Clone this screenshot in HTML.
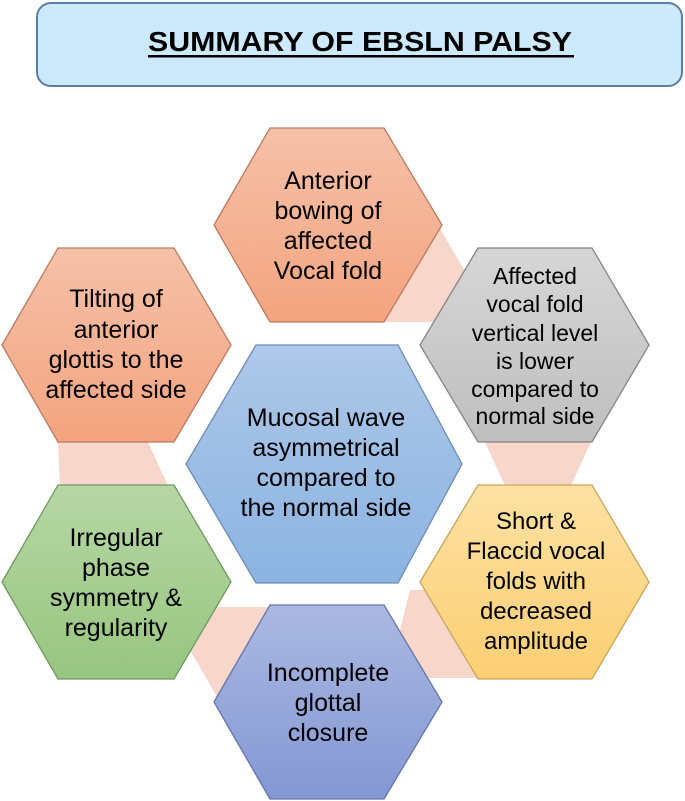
<!DOCTYPE html>
<html><head><meta charset="utf-8"><style>
html,body{margin:0;padding:0;background:#fff;}
svg{display:block;}
text{font-family:"Liberation Sans",sans-serif;fill:#000;}
</style></head><body>
<svg width="685" height="801" viewBox="0 0 685 801" xmlns="http://www.w3.org/2000/svg">
<defs>
<linearGradient id="go" x1="0" y1="0" x2="0" y2="1"><stop offset="0" stop-color="#f5c1a9"/><stop offset="1" stop-color="#f4a47f"/></linearGradient>
<linearGradient id="gg" x1="0" y1="0" x2="0" y2="1"><stop offset="0" stop-color="#d6d6d6"/><stop offset="1" stop-color="#bfbfbf"/></linearGradient>
<linearGradient id="gb" x1="0" y1="0" x2="0" y2="1"><stop offset="0" stop-color="#aec8e8"/><stop offset="1" stop-color="#8bb3e1"/></linearGradient>
<linearGradient id="ggr" x1="0" y1="0" x2="0" y2="1"><stop offset="0" stop-color="#b7d7a6"/><stop offset="1" stop-color="#97c57f"/></linearGradient>
<linearGradient id="gy" x1="0" y1="0" x2="0" y2="1"><stop offset="0" stop-color="#fde1a3"/><stop offset="1" stop-color="#fccf73"/></linearGradient>
<linearGradient id="gv" x1="0" y1="0" x2="0" y2="1"><stop offset="0" stop-color="#abb8e1"/><stop offset="1" stop-color="#8397d3"/></linearGradient>
</defs>
<rect x="37" y="3" width="645" height="83" rx="14" fill="#cceafc" stroke="#5a7ea6" stroke-width="2"/>
<text x="360" y="51" font-size="28" font-weight="bold" text-anchor="middle" textLength="424" lengthAdjust="spacingAndGlyphs">SUMMARY OF EBSLN PALSY</text>
<rect x="148" y="55" width="426" height="2.5" fill="#000"/>

<g fill="#f7d6cb">
<polygon points="432,215 482,300 452,322 385,322"/>
<polygon points="58,440 147,440 170,490 60,490"/>
<polygon points="484,440 592,440 569,490 507,490"/>
<polygon points="185,607 278,607 220,702 190,650"/>
<polygon points="410,590 458,590 482,678 425,678 400,630"/>
</g>

<g stroke-width="1.3">
<polygon points="270,128 384,128 442,225 384,322 270,322 214,225" fill="url(#go)" stroke="#b97a60"/>
<polygon points="58,248 174,248 231,345 174,442 58,442 2,345" fill="url(#go)" stroke="#b97a60"/>
<polygon points="478,248 592,248 649,345 592,442 478,442 420,345" fill="url(#gg)" stroke="#858585"/>
<polygon points="256,345 398,345 462,464 398,583 256,583 186,464" fill="url(#gb)" stroke="#6c8bb7"/>
<polygon points="58,485 174,485 231,582 174,679 58,679 2,582" fill="url(#ggr)" stroke="#6f9960"/>
<polygon points="478,485 592,485 649,582 592,679 478,679 420,582" fill="url(#gy)" stroke="#c8a55a"/>
<polygon points="270,605 384,605 442,702 384,799 270,799 214,702" fill="url(#gv)" stroke="#6475a8"/>
</g>

<g font-size="25" text-anchor="middle">
<text x="328" y="189">Anterior</text>
<text x="328" y="219">bowing of</text>
<text x="328" y="249">affected</text>
<text x="328" y="279">Vocal fold</text>

<text x="116" y="307">Tilting of</text>
<text x="116" y="338">anterior</text>
<text x="116" y="368">glottis to the</text>
<text x="116" y="398">affected side</text>

<g font-size="23">
<text x="535" y="284">Affected</text>
<text x="535" y="312">vocal fold</text>
<text x="535" y="341">vertical level</text>
<text x="535" y="369">is lower</text>
<text x="535" y="397">compared to</text>
<text x="535" y="424">normal side</text>
</g>

<text x="326" y="426">Mucosal wave</text>
<text x="326" y="456">asymmetrical</text>
<text x="326" y="486">compared to</text>
<text x="326" y="516">the normal side</text>

<text x="116" y="546">Irregular</text>
<text x="116" y="576">phase</text>
<text x="116" y="606">symmetry &amp;</text>
<text x="116" y="636">regularity</text>

<g font-size="24">
<text x="536" y="529">Short &amp;</text>
<text x="536" y="559">Flaccid vocal</text>
<text x="536" y="589">folds with</text>
<text x="536" y="619">decreased</text>
<text x="536" y="649">amplitude</text>
</g>

<text x="328" y="681">Incomplete</text>
<text x="328" y="711">glottal</text>
<text x="328" y="741">closure</text>
</g>
</svg>
</body></html>
